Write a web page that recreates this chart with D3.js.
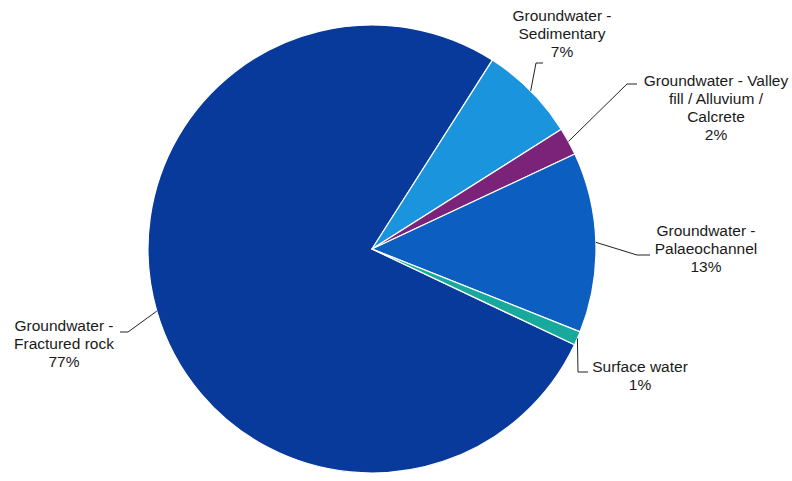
<!DOCTYPE html>
<html>
<head>
<meta charset="utf-8">
<script src="https://cdn.jsdelivr.net/npm/d3@7"></script>
<style>
  html, body { margin: 0; padding: 0; background: #fff; }
  svg { display: block; }
</style>
</head>
<body>
<svg id="chart" width="792" height="481"></svg>
<script>
// Water source shares (percent)
const categories = [
  "Groundwater - Fractured rock",
  "Groundwater - Sedimentary",
  "Groundwater - Valley fill / Alluvium / Calcrete",
  "Groundwater - Palaeochannel",
  "Surface water"
];
const shares = [77, 7, 2, 13, 1];

// Label text, split into lines as printed beside each slice
const labelLines = [
  ["Groundwater -", "Fractured rock", "77%"],
  ["Groundwater -", "Sedimentary", "7%"],
  ["Groundwater - Valley", "fill / Alluvium /", "Calcrete", "2%"],
  ["Groundwater -", "Palaeochannel", "13%"],
  ["Surface water", "1%"]
];

// Slice fills
const colors = ["#083a9b", "#1a94dd", "#7a2379", "#0c5ec1", "#17a99b"];

// Label placement: text centre x, first baseline y, leader elbow and end
const labelLayout = [
  { x: 64,  y: 331, elbow: [128, 332], end: [120, 332] },
  { x: 562, y: 21,  elbow: [536, 63],  end: [543, 63] },
  { x: 716, y: 86,  elbow: [627, 84],  end: [637, 84] },
  { x: 706, y: 236, elbow: [637, 255], end: [650, 255] },
  { x: 640, y: 372, elbow: [578, 372], end: [588, 372] }
];

const svg = d3.select("#chart");
const cx = 372, cy = 249, radius = 224;
const lineHeight = 18;

// First slice begins so that the sedimentary wedge starts near 1 o'clock
const start = (32.5 - 277.2) * Math.PI / 180;
const pie = d3.pie().sort(null).value(d => d)
  .startAngle(start).endAngle(start + 2 * Math.PI);
const arcs = pie(shares);
const arc = d3.arc().innerRadius(0).outerRadius(radius);

const g = svg.append("g").attr("transform", `translate(${cx},${cy})`);

g.selectAll("path.slice")
  .data(arcs)
  .join("path")
  .attr("class", "slice")
  .attr("d", arc)
  .attr("fill", (d, i) => colors[i])
  .attr("stroke", "#ffffff")
  .attr("stroke-width", 1.2)
  .attr("stroke-linejoin", "round");

// Leader lines from the slice rim to each label
const rimPoint = d => {
  const a = (d.startAngle + d.endAngle) / 2;
  return [cx + radius * Math.sin(a), cy - radius * Math.cos(a)];
};

svg.selectAll("path.leader")
  .data(arcs)
  .join("path")
  .attr("class", "leader")
  .attr("d", (d, i) => d3.line()([rimPoint(d), labelLayout[i].elbow, labelLayout[i].end]))
  .attr("fill", "none")
  .attr("stroke", "#222")
  .attr("stroke-width", 1);

const labels = svg.selectAll("text.label")
  .data(arcs)
  .join("text")
  .attr("class", "label")
  .attr("x", (d, i) => labelLayout[i].x)
  .attr("y", (d, i) => labelLayout[i].y)
  .attr("text-anchor", "middle")
  .attr("font-family", "'Liberation Sans', Arial, sans-serif")
  .attr("font-size", "15.5px")
  .attr("fill", "#1a1a1a");

labels.each(function (d, i) {
  d3.select(this).selectAll("tspan")
    .data(labelLines[i])
    .join("tspan")
    .attr("x", labelLayout[i].x)
    .attr("dy", (t, j) => j === 0 ? 0 : lineHeight)
    .text(t => t);
});
</script>
</body>
</html>
